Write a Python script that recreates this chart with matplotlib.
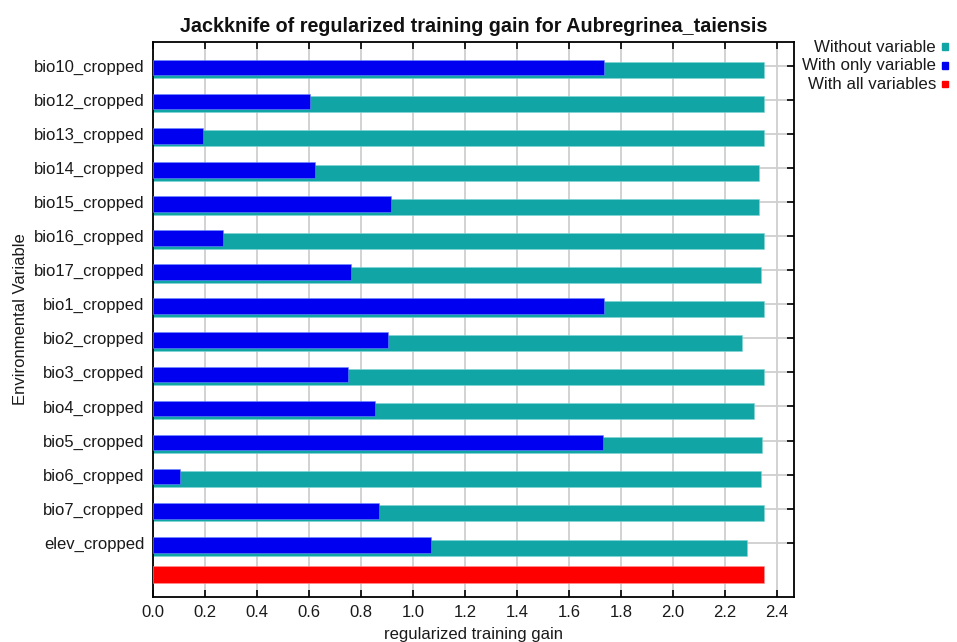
import numpy as np
import matplotlib
matplotlib.use('Agg')
import matplotlib.pyplot as plt
from matplotlib.patches import Rectangle

plt.rcParams['font.family'] = ['Liberation Sans', 'DejaVu Sans']

variables = ['bio10_cropped', 'bio12_cropped', 'bio13_cropped', 'bio14_cropped',
             'bio15_cropped', 'bio16_cropped', 'bio17_cropped', 'bio1_cropped',
             'bio2_cropped', 'bio3_cropped', 'bio4_cropped', 'bio5_cropped',
             'bio6_cropped', 'bio7_cropped', 'elev_cropped']
without_var = [2.349, 2.349, 2.349, 2.332, 2.332, 2.349, 2.338, 2.349,
               2.264, 2.349, 2.312, 2.343, 2.337, 2.349, 2.286]
only_var = [1.735, 0.603, 0.191, 0.624, 0.914, 0.269, 0.762, 1.735,
            0.905, 0.751, 0.853, 1.731, 0.105, 0.868, 1.068]
all_vars = 2.349

teal = '#12a5a5'
blue = '#0000f0'
red = '#ff0000'

fig = plt.figure(figsize=(9.57, 6.42), dpi=100)
ax = fig.add_axes([0.16, 0.0701, 0.6697, 0.8645])

y = np.arange(len(variables), 0, -1)
ax.barh(y - 0.14, without_var, height=0.47, color=teal, edgecolor='#7fd6d6', linewidth=0.4, zorder=2)
ax.barh(y - 0.06, only_var, height=0.46, color=blue, edgecolor='#6f8cff', linewidth=0.4, zorder=3)
ax.barh([0.06], [all_vars], height=0.49, color=red, edgecolor='#ff9090', linewidth=0.4, zorder=3)

ax.set_xlim(0, 2.465)
ax.set_ylim(-0.59, 15.69)
ax.set_xticks(np.arange(0, 2.41, 0.2))
ax.set_xticklabels(['%.1f' % v for v in np.arange(0, 2.41, 0.2)])
ax.set_yticks(y)
ax.set_yticklabels(variables)
ax.grid(True, color='#cfcfcf', linewidth=1.3, zorder=0)
ax.set_axisbelow(True)
ax.tick_params(direction='in', top=True, right=True, labelsize=12, length=5,
               width=1.2, colors='black', labelcolor='#1a1a1a', pad=6)
for s in ax.spines.values():
    s.set_linewidth(1.3)

ax.set_title('Jackknife of regularized training gain for Aubregrinea_taiensis',
             fontsize=14.2, fontweight='bold', color='#111111', pad=7)
ax.set_xlabel('regularized training gain', fontsize=12, color='#1a1a1a', labelpad=5)
ax.set_ylabel('Environmental Variable', fontsize=12, color='#1a1a1a', labelpad=4)

# legend on the right, text then colored square
legend_items = [('Without variable', teal), ('With only variable', blue), ('With all variables', red)]
for i, (lab, col) in enumerate(legend_items):
    yy = 1 - (47 + i * 18.7) / 642
    fig.text(936 / 957, yy, lab, ha='right', va='center', fontsize=12.2, color='#1a1a1a')
    fig.add_artist(Rectangle((942 / 957, yy - 3 / 642), 5.5 / 957, 6.5 / 642,
                             transform=fig.transFigure, color=col))

fig.savefig('out.png', dpi=100)
